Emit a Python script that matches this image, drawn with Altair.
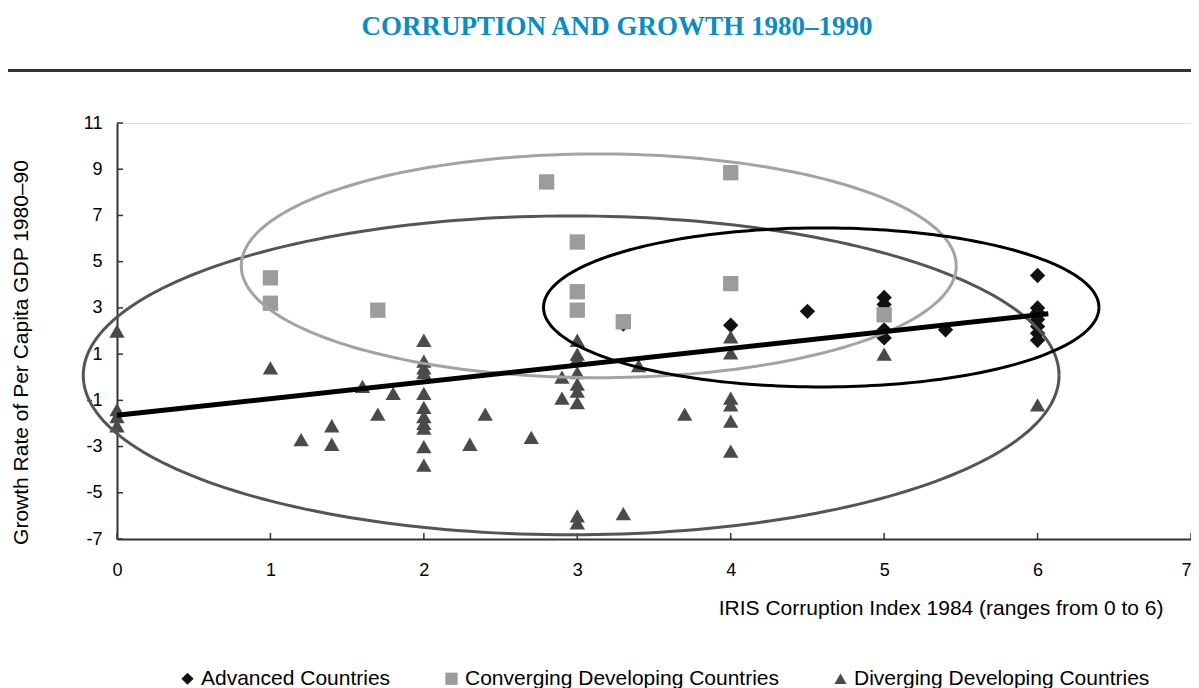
import altair as alt
import numpy as np
import pandas as pd

# ---------------- data ----------------
groups = ["Advanced Countries", "Converging Developing Countries", "Diverging Developing Countries"]

adv_x = [3.3, 4, 4.5, 5, 5, 5, 5, 5.4, 6, 6, 6, 6, 6, 6, 6]
adv_y = [2.3, 2.25, 2.85, 3.45, 3.15, 2.05, 1.7, 2.05, 4.4, 3.0, 2.8, 2.5, 2.2, 1.9, 1.6]

conv_x = [1, 1, 1.7, 2.8, 3, 3, 3, 3.3, 4, 4, 5]
conv_y = [4.3, 3.2, 2.9, 8.45, 5.85, 3.7, 2.9, 2.4, 8.85, 4.05, 2.7]

div_x = [0, 0, 0, 0,
         1, 1.2, 1.4, 1.4, 1.6, 1.7, 1.8,
         2, 2, 2, 2, 2, 2, 2, 2, 2, 2, 2,
         2.3, 2.4, 2.7, 2.9, 2.9,
         3, 3, 3, 3, 3, 3, 3, 3, 3,
         3.3, 3.4, 3.7,
         4, 4, 4, 4, 4, 4,
         5, 6]
div_y = [2.0, -1.4, -1.7, -2.1,
         0.4, -2.7, -2.1, -2.9, -0.4, -1.6, -0.7,
         1.6, 0.7, 0.4, 0.2, -0.7, -1.3, -1.7, -2.0, -2.2, -3.0, -3.8,
         -2.9, -1.6, -2.6, 0.0, -0.9,
         1.6, 1.0, 0.8, 0.2, -0.3, -0.6, -1.1, -6.0, -6.3,
         -5.9, 0.5, -1.6,
         1.75, 1.05, -0.9, -1.2, -1.9, -3.2,
         1.0, -1.2]

reg_x = [0, 6.07]
reg_y = [-1.65, 2.75]

# ellipses (annotation outlines): centre, radii
ell_cx = [2.96, 3.14, 4.59]
ell_cy = [0.08, 4.82, 3.02]
ell_rx = [3.18, 2.33, 1.81]
ell_ry = [6.9, 4.84, 3.44]
ell_col = ["#555555", "#a3a3a3", "#000000"]

x_ticks = [0, 1, 2, 3, 4, 5, 6, 7]
y_ticks = [-7, -5, -3, -1, 1, 3, 5, 7, 9, 11]

title_text = "CORRUPTION AND GROWTH 1980\u20131990"
x_title = "IRIS Corruption Index 1984 (ranges from 0 to 6)"
y_title = "Growth Rate of Per Capita GDP 1980\u201390"

# ---------------- tables ----------------
pts = pd.concat([
    pd.DataFrame({"x": adv_x, "y": adv_y, "group": groups[0]}),
    pd.DataFrame({"x": conv_x, "y": conv_y, "group": groups[1]}),
    pd.DataFrame({"x": div_x, "y": div_y, "group": groups[2]}),
], ignore_index=True)

W, H = 1074, 416
FONT = "Liberation Sans"
TFS = 21

xs = alt.Scale(domain=[0, 7], nice=False, zero=False)
ys = alt.Scale(domain=[-7, 11], nice=False, zero=False)

x_axis = alt.Axis(values=x_ticks, ticks=False, grid=False, labelFontSize=18, labelFont=FONT,
                  labelColor="#000", labelPadding=22, labelFlush=False, domainColor="#333",
                  domainWidth=2, labelExpr="'' + datum.value",
                  labelAlign={"condition": {"test": "datum.value == 7", "value": "right"},
                              "value": "center"},
                  title=x_title, titleFont=FONT, titleFontSize=TFS, titleFontWeight="normal",
                  titleColor="#000", titleX=1046, titleY=69, titleAlign="right",
                  titleBaseline="middle")
y_axis = alt.Axis(values=y_ticks, ticks=False, grid=False, labelFontSize=18, labelFont=FONT,
                  labelColor="#000", labelPadding=15, domainColor="#333", domainWidth=2,
                  labelExpr="'' + datum.value",
                  title=y_title, titleFont=FONT, titleFontSize=TFS, titleFontWeight="normal",
                  titleColor="#000", titleX=-96, titleY=229, titleAngle=-90,
                  titleAlign="center", titleBaseline="middle")

legend = alt.Legend(title=None, orient="none", legendX=60, legendY=545, direction="horizontal",
                    columnPadding=50, symbolSize=150, labelFontSize=TFS, labelFont=FONT,
                    labelColor="#000", labelOffset=3, labelLimit=500, padding=0,
                    symbolStrokeWidth=0, symbolOpacity=1)

points = alt.Chart(pts).mark_point(filled=True, size=235, opacity=1).encode(
    x=alt.X("x:Q", scale=xs, axis=x_axis),
    y=alt.Y("y:Q", scale=ys, axis=y_axis),
    shape=alt.Shape("group:N", scale=alt.Scale(domain=groups,
                    range=["diamond", "square", "triangle-up"]), legend=legend),
    color=alt.Color("group:N", scale=alt.Scale(domain=groups,
                    range=["#111111", "#9c9c9c", "#4a4a4a"]), legend=legend),
)

# inward ticks
ytick_layer = alt.Chart(pd.DataFrame({"v": y_ticks})).mark_rule(color="#333", strokeWidth=1.5).encode(
    y=alt.Y("v:Q", scale=ys), x=alt.value(0), x2=alt.value(6))
xtick_layer = alt.Chart(pd.DataFrame({"v": x_ticks})).mark_rule(color="#333", strokeWidth=1.5).encode(
    x=alt.X("v:Q", scale=xs), y=alt.value(H), y2=alt.value(H - 6))

layers = [ytick_layer, xtick_layer, points]

theta = np.linspace(0, 2 * np.pi, 241)
for cx, cy, rx, ry, col in zip(ell_cx, ell_cy, ell_rx, ell_ry, ell_col):
    edf = pd.DataFrame({"i": np.arange(len(theta)),
                        "x": cx + rx * np.cos(theta),
                        "y": cy + ry * np.sin(theta)})
    layers.append(alt.Chart(edf).mark_line(color=col, strokeWidth=3).encode(
        x=alt.X("x:Q", scale=xs), y=alt.Y("y:Q", scale=ys), order="i:Q"))

reg = alt.Chart(pd.DataFrame({"x": reg_x, "y": reg_y})).mark_line(color="#000", strokeWidth=5).encode(
    x=alt.X("x:Q", scale=xs), y=alt.Y("y:Q", scale=ys))
layers.append(reg)

title_layer = alt.Chart(pd.DataFrame({"t": [title_text]})).mark_text(
    font="Liberation Serif", fontSize=27, fontWeight="bold", color="#0d8cc0",
    align="center", baseline="middle").encode(text="t:N", x=alt.value(500), y=alt.value(-96))
sep = alt.Chart(pd.DataFrame({"a": [0]})).mark_rule(color="#333", strokeWidth=3).encode(
    x=alt.value(-109), x2=alt.value(1074), y=alt.value(-52.5))
layers += [title_layer, sep]

chart = alt.layer(*layers).properties(
    width=W, height=H,
    autosize=alt.AutoSizeParams(type="none"),
    padding={"left": 109, "top": 115, "right": 0, "bottom": 150},
).configure_view(stroke="#333", strokeWidth=1.5).configure(background="white")

chart.save("out.html", embed_options={"renderer": "svg", "actions": False})
